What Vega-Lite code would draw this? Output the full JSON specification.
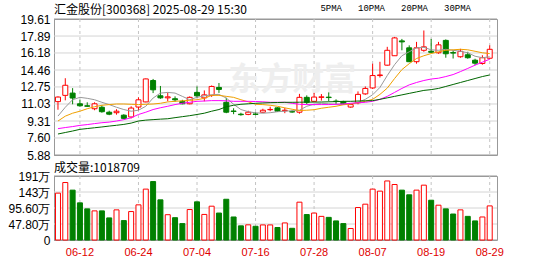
{
  "$schema": "https://vega.github.io/schema/vega-lite/v6.json",
  "background": "white",
  "padding": {"left": 7, "top": 3, "right": 5, "bottom": 0},
  "bounds": "flush",
  "spacing": 21,
  "resolve": {"scale": {"x": "independent", "y": "independent"}, "axis": {"x": "independent", "y": "independent"}},
  "config": {
    "font": "Liberation Sans",
    "view": {"stroke": "#999999", "strokeWidth": 1},
    "axis": {"labelFont": "Liberation Sans", "labelFontSize": 12, "labelColor": "#000000", "ticks": false, "domain": false, "grid": false, "labelPadding": 4, "labelOverlap": false, "title": null},
    "title": {"font": "Noto Sans CJK SC", "fontSize": 12, "fontWeight": "normal", "color": "#000000", "anchor": "start", "frame": "group"}
  },
  "datasets": {
    "k": [
      {"d": "06-09", "o": 11.27, "h": 11.8, "l": 10.45, "c": 11.73, "v": 1400000, "m5": 9.81, "m10": 9.31, "m20": 8.54, "m30": 8.0},
      {"d": "06-10", "o": 11.9, "h": 13.63, "l": 11.4, "c": 12.92, "v": 1717000, "m5": 10.7, "m10": 9.8, "m20": 8.65, "m30": 8.15},
      {"d": "06-11", "o": 12.13, "h": 12.63, "l": 11.0, "c": 11.63, "v": 1490000, "m5": 11.46, "m10": 10.1, "m20": 8.75, "m30": 8.3},
      {"d": "06-12", "o": 11.05, "h": 11.45, "l": 10.75, "c": 10.85, "v": 1110000, "m5": 11.7, "m10": 10.3, "m20": 8.87, "m30": 8.47},
      {"d": "06-13", "o": 10.85, "h": 11.2, "l": 10.75, "c": 10.8, "v": 930000, "m5": 11.6, "m10": 10.55, "m20": 8.95, "m30": 8.55},
      {"d": "06-16", "o": 10.55, "h": 11.2, "l": 10.4, "c": 11.05, "v": 870000, "m5": 11.46, "m10": 10.75, "m20": 9.05, "m30": 8.63},
      {"d": "06-17", "o": 10.7, "h": 10.9, "l": 10.15, "c": 10.25, "v": 870000, "m5": 11.2, "m10": 10.9, "m20": 9.14, "m30": 8.71},
      {"d": "06-18", "o": 10.2, "h": 10.35, "l": 9.9, "c": 10.0, "v": 660000, "m5": 10.97, "m10": 10.97, "m20": 9.2, "m30": 8.8},
      {"d": "06-19", "o": 10.15, "h": 10.5, "l": 9.95, "c": 10.3, "v": 900000, "m5": 10.7, "m10": 11.03, "m20": 9.31, "m30": 8.88},
      {"d": "06-20", "o": 9.9, "h": 10.0, "l": 9.5, "c": 9.58, "v": 580000, "m5": 10.47, "m10": 11.03, "m20": 9.45, "m30": 8.97},
      {"d": "06-23", "o": 9.72, "h": 10.8, "l": 9.57, "c": 10.62, "v": 850000, "m5": 10.3, "m10": 11.0, "m20": 9.64, "m30": 9.1},
      {"d": "06-24", "o": 10.72, "h": 11.7, "l": 10.4, "c": 11.45, "v": 1050000, "m5": 10.4, "m10": 10.97, "m20": 9.97, "m30": 9.31},
      {"d": "06-25", "o": 11.24, "h": 13.6, "l": 11.2, "c": 13.56, "v": 1520000, "m5": 10.8, "m10": 11.0, "m20": 10.2, "m30": 9.4},
      {"d": "06-26", "o": 13.4, "h": 13.56, "l": 12.13, "c": 12.46, "v": 1746000, "m5": 11.63, "m10": 11.03, "m20": 10.47, "m30": 9.45},
      {"d": "06-27", "o": 11.86, "h": 12.85, "l": 11.55, "c": 11.65, "v": 1200000, "m5": 12.13, "m10": 11.1, "m20": 10.65, "m30": 9.5},
      {"d": "06-30", "o": 11.65, "h": 12.2, "l": 11.3, "c": 11.75, "v": 756000, "m5": 12.2, "m10": 11.24, "m20": 10.8, "m30": 9.54},
      {"d": "07-01", "o": 11.56, "h": 11.8, "l": 11.25, "c": 11.45, "v": 667000, "m5": 12.13, "m10": 11.3, "m20": 10.97, "m30": 9.65},
      {"d": "07-02", "o": 11.3, "h": 11.45, "l": 11.0, "c": 11.05, "v": 490000, "m5": 11.8, "m10": 11.35, "m20": 11.1, "m30": 9.75},
      {"d": "07-03", "o": 11.05, "h": 11.8, "l": 11.0, "c": 11.7, "v": 910000, "m5": 11.46, "m10": 11.4, "m20": 11.2, "m30": 9.85},
      {"d": "07-04", "o": 12.2, "h": 12.8, "l": 11.63, "c": 11.85, "v": 1140000, "m5": 11.7, "m10": 11.46, "m20": 11.3, "m30": 9.97},
      {"d": "07-07", "o": 11.65, "h": 12.4, "l": 11.3, "c": 11.95, "v": 764000, "m5": 11.85, "m10": 11.6, "m20": 11.33, "m30": 10.1},
      {"d": "07-08", "o": 11.9, "h": 12.9, "l": 11.75, "c": 12.8, "v": 1010000, "m5": 11.96, "m10": 11.9, "m20": 11.37, "m30": 10.3},
      {"d": "07-09", "o": 12.7, "h": 13.15, "l": 12.15, "c": 12.5, "v": 805000, "m5": 12.0, "m10": 11.9, "m20": 11.37, "m30": 10.47},
      {"d": "07-10", "o": 11.2, "h": 11.65, "l": 10.1, "c": 10.2, "v": 1217000, "m5": 11.63, "m10": 11.8, "m20": 11.35, "m30": 10.75},
      {"d": "07-11", "o": 10.32, "h": 10.6, "l": 10.0, "c": 10.28, "v": 688000, "m5": 11.0, "m10": 11.7, "m20": 11.3, "m30": 10.9},
      {"d": "07-14", "o": 10.0, "h": 10.15, "l": 9.85, "c": 9.95, "v": 423000, "m5": 10.47, "m10": 11.46, "m20": 11.3, "m30": 11.0},
      {"d": "07-15", "o": 9.98, "h": 10.35, "l": 9.9, "c": 10.2, "v": 453000, "m5": 10.25, "m10": 11.25, "m20": 11.3, "m30": 11.05},
      {"d": "07-16", "o": 10.02, "h": 10.2, "l": 9.9, "c": 9.98, "v": 410000, "m5": 10.14, "m10": 11.0, "m20": 11.28, "m30": 11.1},
      {"d": "07-17", "o": 10.2, "h": 10.55, "l": 10.15, "c": 10.4, "v": 450000, "m5": 10.1, "m10": 10.97, "m20": 11.25, "m30": 11.13},
      {"d": "07-18", "o": 10.45, "h": 10.75, "l": 10.3, "c": 10.48, "v": 450000, "m5": 10.15, "m10": 10.9, "m20": 11.2, "m30": 11.16},
      {"d": "07-21", "o": 10.64, "h": 10.7, "l": 10.25, "c": 10.3, "v": 373000, "m5": 10.25, "m10": 10.8, "m20": 11.2, "m30": 11.18},
      {"d": "07-22", "o": 10.35, "h": 10.64, "l": 10.1, "c": 10.4, "v": 510000, "m5": 10.3, "m10": 10.64, "m20": 11.2, "m30": 11.2},
      {"d": "07-23", "o": 10.26, "h": 10.4, "l": 10.15, "c": 10.22, "v": 350000, "m5": 10.35, "m10": 10.5, "m20": 11.1, "m30": 11.2},
      {"d": "07-24", "o": 10.2, "h": 12.05, "l": 10.05, "c": 11.7, "v": 1130000, "m5": 10.4, "m10": 10.37, "m20": 11.0, "m30": 11.21},
      {"d": "07-25", "o": 11.7, "h": 11.9, "l": 11.0, "c": 11.2, "v": 760000, "m5": 10.8, "m10": 10.4, "m20": 10.97, "m30": 11.22},
      {"d": "07-28", "o": 11.3, "h": 12.15, "l": 11.25, "c": 11.73, "v": 805000, "m5": 11.0, "m10": 10.45, "m20": 10.97, "m30": 11.22},
      {"d": "07-29", "o": 11.7, "h": 12.03, "l": 11.37, "c": 11.75, "v": 706000, "m5": 11.1, "m10": 10.6, "m20": 10.97, "m30": 11.23},
      {"d": "07-30", "o": 11.72, "h": 12.2, "l": 11.3, "c": 11.68, "v": 676000, "m5": 11.05, "m10": 10.7, "m20": 10.97, "m30": 11.25},
      {"d": "07-31", "o": 11.32, "h": 11.5, "l": 11.03, "c": 11.28, "v": 570000, "m5": 11.0, "m10": 10.8, "m20": 11.0, "m30": 11.27},
      {"d": "08-01", "o": 11.25, "h": 11.35, "l": 10.95, "c": 11.0, "v": 490000, "m5": 11.0, "m10": 10.95, "m20": 11.03, "m30": 11.3},
      {"d": "08-04", "o": 10.72, "h": 11.05, "l": 10.65, "c": 10.97, "v": 344000, "m5": 11.05, "m10": 11.03, "m20": 11.1, "m30": 11.3},
      {"d": "08-05", "o": 11.15, "h": 12.3, "l": 11.0, "c": 12.0, "v": 970000, "m5": 11.2, "m10": 11.15, "m20": 11.15, "m30": 11.33},
      {"d": "08-06", "o": 12.05, "h": 12.8, "l": 11.95, "c": 12.6, "v": 1070000, "m5": 11.5, "m10": 11.3, "m20": 11.2, "m30": 11.35},
      {"d": "08-07", "o": 12.65, "h": 15.1, "l": 12.55, "c": 13.9, "v": 1520000, "m5": 11.96, "m10": 11.5, "m20": 11.3, "m30": 11.37},
      {"d": "08-08", "o": 13.9, "h": 15.29, "l": 13.7, "c": 13.96, "v": 1460000, "m5": 12.7, "m10": 12.0, "m20": 11.5, "m30": 11.5},
      {"d": "08-11", "o": 14.95, "h": 16.8, "l": 14.9, "c": 16.45, "v": 1764000, "m5": 13.9, "m10": 12.63, "m20": 11.8, "m30": 11.65},
      {"d": "08-12", "o": 15.9, "h": 17.8, "l": 15.9, "c": 17.7, "v": 1658000, "m5": 15.0, "m10": 13.6, "m20": 12.2, "m30": 11.8},
      {"d": "08-13", "o": 17.4, "h": 17.6, "l": 16.45, "c": 17.3, "v": 1490000, "m5": 15.9, "m10": 14.5, "m20": 12.6, "m30": 11.95},
      {"d": "08-14", "o": 16.7, "h": 16.95, "l": 15.25, "c": 15.3, "v": 1350000, "m5": 16.3, "m10": 15.1, "m20": 12.96, "m30": 12.1},
      {"d": "08-15", "o": 15.3, "h": 17.3, "l": 15.1, "c": 16.7, "v": 1490000, "m5": 16.7, "m10": 15.62, "m20": 13.2, "m30": 12.25},
      {"d": "08-18", "o": 16.45, "h": 18.45, "l": 16.3, "c": 16.8, "v": 1638000, "m5": 16.75, "m10": 15.9, "m20": 13.4, "m30": 12.4},
      {"d": "08-19", "o": 16.35, "h": 17.6, "l": 16.2, "c": 16.25, "v": 1188000, "m5": 16.5, "m10": 16.12, "m20": 13.55, "m30": 12.48},
      {"d": "08-20", "o": 16.2, "h": 17.3, "l": 16.1, "c": 17.0, "v": 1040000, "m5": 16.45, "m10": 16.3, "m20": 13.63, "m30": 12.6},
      {"d": "08-21", "o": 17.45, "h": 17.55, "l": 15.7, "c": 16.1, "v": 930000, "m5": 16.55, "m10": 16.45, "m20": 13.8, "m30": 12.8},
      {"d": "08-22", "o": 16.22, "h": 16.45, "l": 15.62, "c": 16.17, "v": 776000, "m5": 16.45, "m10": 16.5, "m20": 14.0, "m30": 13.0},
      {"d": "08-25", "o": 15.8, "h": 16.6, "l": 15.7, "c": 16.35, "v": 900000, "m5": 16.35, "m10": 16.55, "m20": 14.3, "m30": 13.2},
      {"d": "08-26", "o": 16.0, "h": 16.3, "l": 15.6, "c": 15.7, "v": 706000, "m5": 16.2, "m10": 16.5, "m20": 14.62, "m30": 13.4},
      {"d": "08-27", "o": 15.45, "h": 15.6, "l": 14.95, "c": 15.15, "v": 570000, "m5": 15.85, "m10": 16.35, "m20": 14.95, "m30": 13.6},
      {"d": "08-28", "o": 15.12, "h": 15.95, "l": 15.0, "c": 15.7, "v": 688000, "m5": 15.7, "m10": 16.2, "m20": 15.25, "m30": 13.8},
      {"d": "08-29", "o": 15.65, "h": 16.95, "l": 15.55, "c": 16.55, "v": 1018709, "m5": 15.8, "m10": 16.12, "m20": 15.55, "m30": 13.96}
    ],
    "labelDays": [
      {"d": "06-12"}, {"d": "06-24"}, {"d": "07-04"}, {"d": "07-16"},
      {"d": "07-28"}, {"d": "08-07"}, {"d": "08-19"}, {"d": "08-29"}
    ],
    "priceTicks": [
      {"p": 5.88}, {"p": 7.60}, {"p": 9.31}, {"p": 11.03}, {"p": 12.75},
      {"p": 14.46}, {"p": 16.18}, {"p": 17.89}, {"p": 19.61}
    ],
    "volumeTicks": [
      {"v": 0}, {"v": 478000}, {"v": 956000}, {"v": 1434000}, {"v": 1912000}
    ]
  },
  "vconcat": [
    {
      "width": 443,
      "height": 136,
      "title": {"text": "汇金股份[300368] 2025-08-29 15:30", "offset": -4},
      "data": {"name": "k"},
      "encoding": {
        "y": {
          "type": "quantitative",
          "scale": {"domain": [5.88, 19.61], "nice": false, "zero": false},
          "axis": {"values": [5.88, 7.60, 9.31, 11.03, 12.75, 14.46, 16.18, 17.89, 19.61], "format": ".2f", "domain": true, "domainColor": "#999999"}
        }
      },
      "layer": [
        {
          "data": {"name": "priceTicks"},
          "mark": {"type": "rule", "strokeWidth": 1},
          "encoding": {
            "y": {"field": "p"},
            "color": {"condition": {"test": "datum.p == 5.88 || datum.p == 19.61", "value": "#999999"}, "value": "#d4d4d4"}
          }
        },
        {
          "data": {"name": "labelDays"},
          "mark": {"type": "rule", "strokeWidth": 1, "strokeDash": [3, 3], "color": "#c4c4c4"},
          "encoding": {
            "x": {
              "field": "d", "type": "ordinal",
              "scale": {
                "domain": ["06-09", "06-10", "06-11", "06-12", "06-13", "06-16", "06-17", "06-18", "06-19", "06-20",
                           "06-23", "06-24", "06-25", "06-26", "06-27", "06-30", "07-01", "07-02", "07-03", "07-04",
                           "07-07", "07-08", "07-09", "07-10", "07-11", "07-14", "07-15", "07-16", "07-17", "07-18",
                           "07-21", "07-22", "07-23", "07-24", "07-25", "07-28", "07-29", "07-30", "07-31", "08-01",
                           "08-04", "08-05", "08-06", "08-07", "08-08", "08-11", "08-12", "08-13", "08-14", "08-15",
                           "08-18", "08-19", "08-20", "08-21", "08-22", "08-25", "08-26", "08-27", "08-28", "08-29"],
                "paddingInner": 0.3, "paddingOuter": 0.42, "align": 0.23
              },
              "axis": {"values": ["06-12", "06-24", "07-04", "07-16", "07-28", "08-07", "08-19", "08-29"], "labels": false, "grid": false}
            }
          }
        },
        {
          "data": {"values": [{}]},
          "mark": {"type": "text", "text": "东方财富", "font": "Noto Sans CJK SC", "fontSize": 32, "fontWeight": "bold", "color": "#eeeeee", "align": "center", "baseline": "middle"},
          "encoding": {"x": {"datum": "07-23", "type": "ordinal"}, "y": {"datum": 13.45}}
        },
        {
          "mark": {"type": "rule", "strokeWidth": 1},
          "encoding": {
            "x": {"field": "d", "type": "ordinal"},
            "y": {"field": "l"},
            "y2": {"field": "h"},
            "color": {"condition": {"test": "datum.c >= datum.o", "value": "#ff0000"}, "value": "#008000"}
          }
        },
        {
          "mark": {"type": "bar", "size": 5, "strokeWidth": 1},
          "encoding": {
            "x": {"field": "d", "type": "ordinal"},
            "y": {"field": "o"},
            "y2": {"field": "c"},
            "fill": {"condition": {"test": "datum.c >= datum.o", "value": "#ffffff"}, "value": "#008000"},
            "stroke": {"condition": {"test": "datum.c >= datum.o", "value": "#ff0000"}, "value": "#008000"}
          }
        },
        {
          "transform": [{"fold": ["m5", "m10", "m20", "m30"], "as": ["ma", "val"]}],
          "mark": {"type": "line", "strokeWidth": 1, "interpolate": "linear"},
          "encoding": {
            "x": {"field": "d", "type": "ordinal"},
            "y": {"field": "val"},
            "color": {
              "field": "ma", "type": "nominal",
              "scale": {"domain": ["m5", "m10", "m20", "m30"], "range": ["#999999", "#f0a000", "#ff00ff", "#006600"]},
              "legend": {
                "title": null, "orient": "none", "legendX": 287, "legendY": -16, "direction": "horizontal",
                "labelExpr": "{'m5': '5PMA', 'm10': '10PMA', 'm20': '20PMA', 'm30': '30PMA'}[datum.label]",
                "labelFont": "Liberation Mono", "labelFontSize": 9, "labelColor": "#000000",
                "labelAlign": "right", "labelOffset": -8,
                "symbolType": "M-1,-0.6H1V0.6H-1Z", "symbolSize": 25, "symbolStrokeWidth": 0,
                "columnPadding": 9
              }
            }
          }
        }
      ]
    },
    {
      "width": 443,
      "height": 64,
      "title": {"text": "成交量:1018709", "offset": -5},
      "data": {"name": "k"},
      "encoding": {
        "y": {
          "type": "quantitative",
          "scale": {"domain": [0, 1912000], "nice": false},
          "axis": {"values": [0, 478000, 956000, 1434000, 1912000], "domain": true, "domainColor": "#999999",
                   "labelExpr": "datum.value == 0 ? '0' : (datum.value >= 1000000 ? format(datum.value / 10000, 'd') : format(datum.value / 10000, '.2f')) + '万'"}
        }
      },
      "layer": [
        {
          "data": {"name": "volumeTicks"},
          "mark": {"type": "rule", "strokeWidth": 1},
          "encoding": {
            "y": {"field": "v"},
            "color": {"condition": {"test": "datum.v == 0 || datum.v == 1912000", "value": "#999999"}, "value": "#d4d4d4"}
          }
        },
        {
          "data": {"name": "labelDays"},
          "mark": {"type": "rule", "strokeWidth": 1, "strokeDash": [3, 3], "color": "#c4c4c4"},
          "encoding": {
            "x": {
              "field": "d", "type": "ordinal",
              "scale": {
                "domain": ["06-09", "06-10", "06-11", "06-12", "06-13", "06-16", "06-17", "06-18", "06-19", "06-20",
                           "06-23", "06-24", "06-25", "06-26", "06-27", "06-30", "07-01", "07-02", "07-03", "07-04",
                           "07-07", "07-08", "07-09", "07-10", "07-11", "07-14", "07-15", "07-16", "07-17", "07-18",
                           "07-21", "07-22", "07-23", "07-24", "07-25", "07-28", "07-29", "07-30", "07-31", "08-01",
                           "08-04", "08-05", "08-06", "08-07", "08-08", "08-11", "08-12", "08-13", "08-14", "08-15",
                           "08-18", "08-19", "08-20", "08-21", "08-22", "08-25", "08-26", "08-27", "08-28", "08-29"],
                "paddingInner": 0.3, "paddingOuter": 0.42, "align": 0.23
              },
              "axis": {"values": ["06-12", "06-24", "07-04", "07-16", "07-28", "08-07", "08-19", "08-29"], "bandPosition": 0.5, "labelAngle": 0, "labelColor": "#e00000", "labelFontSize": 11, "labelPadding": 6, "grid": false}
            }
          }
        },
        {
          "mark": {"type": "bar", "size": 5, "strokeWidth": 1},
          "encoding": {
            "x": {"field": "d", "type": "ordinal"},
            "y": {"field": "v"},
            "fill": {"condition": {"test": "datum.c >= datum.o", "value": "#ffffff"}, "value": "#008000"},
            "stroke": {"condition": {"test": "datum.c >= datum.o", "value": "#ff0000"}, "value": "#008000"}
          }
        }
      ]
    }
  ]
}
